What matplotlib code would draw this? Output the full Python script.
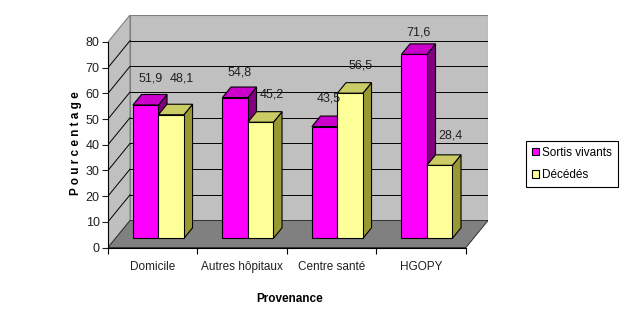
import matplotlib
matplotlib.use("Agg")
import matplotlib.pyplot as plt
from matplotlib.patches import Polygon, Patch

# ---- data ----
categories = ["Domicile", "Autres hôpitaux", "Centre santé", "HGOPY"]
series_names = ["Sortis vivants", "Décédés"]
sortis_vivants = [51.9, 54.8, 43.5, 71.6]
decedes = [48.1, 45.2, 56.5, 28.4]
y_ticks = [0, 10, 20, 30, 40, 50, 60, 70, 80]
x_title = "Provenance"
y_title = "Pourcentage"

plt.rcParams["font.family"] = "Liberation Sans"
FS = 8.5

# ---- oblique 3-D look ----
DX, DY = 0.246, 10.5          # depth offset in data units
D0, D1 = 0.34, 0.73           # bar front / back depth fractions
BAR_W, BAR_OFF = 0.285, 0.195
YMAX = 80

face_colors = [("#ff00ff", "#cc00cc", "#800080"),
               ("#ffff99", "#cccc66", "#999933")]

W, H = 638, 334
fig = plt.figure(figsize=(W / 100, H / 100), dpi=100)
fig.patch.set_facecolor("white")
ax = fig.add_axes([108 / W, (H - 247.5) / H, 380 / W, 232.5 / H])
ax.set_xlim(0, 4 + DX)
ax.set_ylim(0, YMAX + DY)
ax.set_facecolor("none")

wall_kw = dict(facecolor="#c0c0c0", edgecolor="#808080", linewidth=0.8, zorder=1)
ax.add_patch(Polygon([(DX, DY), (4 + DX, DY), (4 + DX, YMAX + DY), (DX, YMAX + DY)], **wall_kw))
ax.add_patch(Polygon([(0, 0), (DX, DY), (DX, YMAX + DY), (0, YMAX)], **wall_kw))

for t in y_ticks[1:-1]:
    ax.plot([DX, 4 + DX], [t + DY, t + DY], color="black", lw=0.7, zorder=2)
    ax.plot([0, DX], [t, t + DY], color="black", lw=0.7, zorder=2)

ax.add_patch(Polygon([(0, 0), (4, 0), (4 + DX, DY), (DX, DY)],
                     facecolor="#808080", edgecolor="#303030", linewidth=0.7, zorder=3))

# ---- bars ----
label_lift = [[6.3, 10.1], [5.7, 6.8], [6.9, 6.7], [4.5, 7.6]]
label_shift = [0.05, 0.12]
series = [sortis_vivants, decedes]
edge = dict(edgecolor="black", linewidth=0.8, zorder=4)
for i in range(len(categories)):
    for j, vals in enumerate(series):
        v = vals[i]
        front, top, side = face_colors[j]
        x0 = i + BAR_OFF + j * BAR_W
        x1 = x0 + BAR_W
        fx0, fx1 = x0 + D0 * DX, x1 + D0 * DX
        bx0, bx1 = x0 + D1 * DX, x1 + D1 * DX
        fy, by = D0 * DY, D1 * DY
        ax.add_patch(Polygon([(fx1, fy), (bx1, by), (bx1, v + by), (fx1, v + fy)],
                             facecolor=side, **edge))
        ax.add_patch(Polygon([(fx0, v + fy), (fx1, v + fy), (bx1, v + by), (bx0, v + by)],
                             facecolor=top, **edge))
        ax.add_patch(Polygon([(fx0, fy), (fx1, fy), (fx1, v + fy), (fx0, v + fy)],
                             facecolor=front, **edge))
        ax.text((fx0 + fx1) / 2 + label_shift[j], v + by + label_lift[i][j],
                f"{v:.1f}".replace(".", ","), ha="center", va="center",
                fontsize=FS + 0.5, color="#202020", zorder=5)

# ---- axes ----
for s in ["top", "right"]:
    ax.spines[s].set_visible(False)
ax.spines["left"].set_bounds(0, YMAX)
ax.spines["bottom"].set_bounds(0, 4)
for s in ["left", "bottom"]:
    ax.spines[s].set_linewidth(0.8)
    ax.spines[s].set_zorder(6)
ax.set_yticks(y_ticks)
ax.set_yticklabels([str(t) for t in y_ticks])
ax.set_xticks(range(len(categories) + 1))
ax.set_xticklabels([])
ax.set_xticks([i + 0.5 for i in range(len(categories))], minor=True)
ax.set_xticklabels(categories, minor=True)
ax.tick_params(axis="y", length=4, width=0.8, pad=2, labelsize=FS + 0.5, colors="#202020")
ax.tick_params(axis="x", which="major", length=4, width=0.8)
ax.tick_params(axis="x", which="minor", length=0, pad=9.5, labelsize=FS, labelcolor="#202020")

fig.text(76 / W, 1 - 143 / H, " ".join(y_title), rotation=90, ha="center", va="center",
         fontsize=FS, fontweight="bold")
fig.text(290 / W, 1 - 299 / H, x_title, ha="center", va="center",
         fontsize=FS, fontweight="bold")

handles = [Patch(facecolor=c[0], edgecolor="black", linewidth=0.8) for c in face_colors]
leg = fig.legend(handles, series_names, loc="upper left",
                 bbox_to_anchor=(526 / W, 1 - 141 / H), borderaxespad=0,
                 frameon=True, fancybox=False, edgecolor="black", framealpha=1,
                 fontsize=FS, handlelength=0.6, handleheight=0.6,
                 handletextpad=0.25, labelspacing=0.85, borderpad=0.5)
leg.get_frame().set_linewidth(0.8)

fig.savefig("out.png", dpi=100)
